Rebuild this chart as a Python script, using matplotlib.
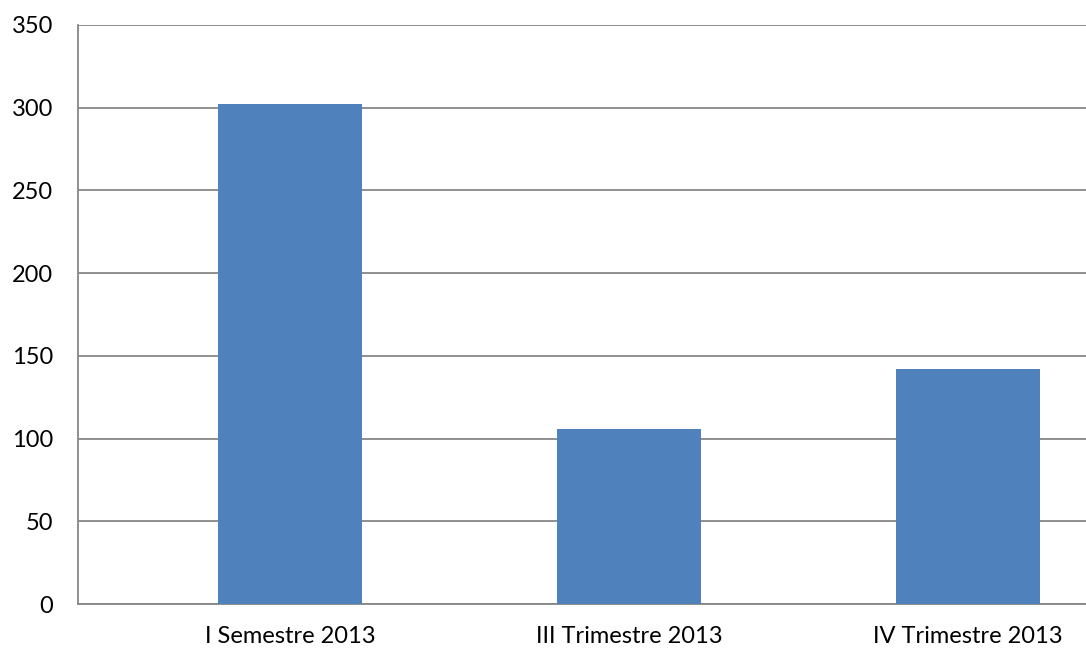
import matplotlib.pyplot as plt

categories = ["I Semestre 2013", "III Trimestre 2013", "IV Trimestre 2013"]
values = [302.5, 105.5, 142]
y_ticks = [0, 50, 100, 150, 200, 250, 300, 350]

plt.rcParams["font.family"] = ["Lato", "DejaVu Sans"]

fig = plt.figure(figsize=(10.86, 6.52), dpi=100)
ax = fig.add_axes([0.0718, 0.0736, 0.9282, 0.8881])

x = list(range(len(categories)))
ax.bar(x, values, width=0.425, color="#4F81BD", zorder=3)

ax.set_ylim(0, 350)
ax.set_xlim(-0.625, 2.348)
ax.set_yticks(y_ticks)
ax.set_xticks(x)
ax.set_xticklabels(categories)
ax.tick_params(axis="both", length=0, labelsize=17, colors="black")
ax.tick_params(axis="y", pad=18)
ax.tick_params(axis="x", pad=16)

ax.grid(axis="y", color="#868686", linewidth=1.3, zorder=0)
for side in ["top", "right"]:
    ax.spines[side].set_visible(False)
for side in ["left", "bottom"]:
    ax.spines[side].set_color("#868686")
    ax.spines[side].set_linewidth(1.3)

fig.savefig("out.png", dpi=100)
